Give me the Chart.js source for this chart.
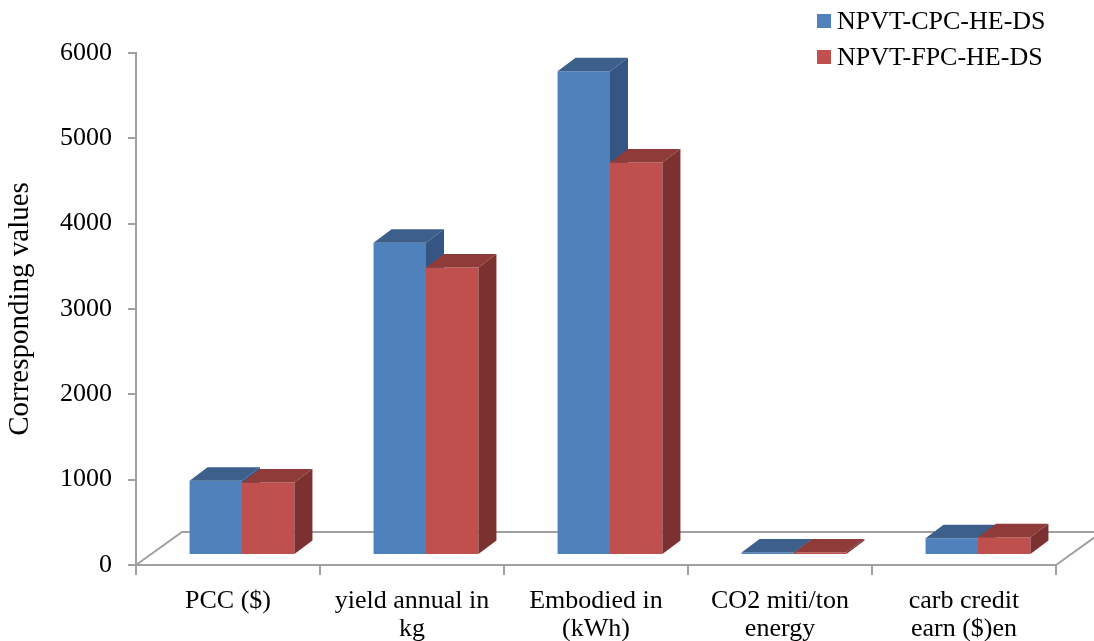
<!DOCTYPE html>
<html>
<head>
<meta charset="utf-8">
<script src="https://cdn.jsdelivr.net/npm/chart.js@4.4.1/dist/chart.umd.min.js"></script>
<style>
  body { margin: 0; background: #fff; }
  #wrap { position: relative; width: 1094px; height: 641px; }
  .leg { position: absolute; left: 817px; font: 26px "Liberation Serif", "Times New Roman", serif; color: #000; white-space: nowrap; line-height: 30px; }
  .leg span { display: inline-block; width: 14px; height: 14px; margin-right: 6px; vertical-align: 1px; }
</style>
</head>
<body>
<div id="wrap">
  <canvas id="mycanvas" width="1094" height="641"></canvas>
  <div class="leg" style="top:6px"><span style="background:#4f81bd"></span>NPVT-CPC-HE-DS</div>
  <div class="leg" style="top:42px"><span style="background:#c0504d"></span>NPVT-FPC-HE-DS</div>
</div>
<script>
var categories = [['PCC ($)'], ['yield annual in', 'kg'], ['Embodied in', '(kWh)'], ['CO2 miti/ton', 'energy'], ['carb credit', 'earn ($)en']];
var cpcValues = [870, 3660, 5670, 30, 195];
var fpcValues = [850, 3370, 4600, 30, 207];
var yTicks = [0, 1000, 2000, 3000, 4000, 5000, 6000];

var serif = '"Liberation Serif", "Times New Roman", serif';
var axisGray = '#a0a0a0';

// fake 3d: floor, bar tops and sides
var bars3d = {
	id: 'bars3d',
	beforeDatasetsDraw: function(chart) {
		var a = chart.chartArea, ctx = chart.ctx;
		ctx.save();
		ctx.strokeStyle = axisGray;
		ctx.lineWidth = 2;
		ctx.beginPath();
		ctx.moveTo(a.left, a.bottom);
		ctx.lineTo(a.left + 46, a.bottom - 33);
		ctx.lineTo(a.right + 46, a.bottom - 33);
		ctx.moveTo(a.right, a.bottom);
		ctx.lineTo(a.right + 46, a.bottom - 33);
		ctx.stroke();
		ctx.restore();
	},
	beforeDatasetDraw: function() {
		return false;
	},
	afterDatasetsDraw: function(chart) {
		var ctx = chart.ctx;
		var dx = 18, dy = -13.5;
		ctx.save();
		ctx.translate(14, -10);
		for (var j = 0; j < categories.length; j++) {
			for (var i = 0; i < chart.data.datasets.length; i++) {
				var ds = chart.data.datasets[i];
				var bar = chart.getDatasetMeta(i).data[j];
				bar.draw(ctx);
				var p = bar.getProps(['x', 'y', 'base', 'width'], true);
				var l = p.x - p.width / 2, r = p.x + p.width / 2, t = p.y, b = p.base;
				ctx.fillStyle = ds.topColor;
				ctx.beginPath();
				ctx.moveTo(l, t);
				ctx.lineTo(l + dx, t + dy);
				ctx.lineTo(r + dx, t + dy);
				ctx.lineTo(r, t);
				ctx.closePath();
				ctx.fill();
				ctx.fillStyle = ds.sideColor;
				ctx.beginPath();
				ctx.moveTo(r, t);
				ctx.lineTo(r + dx, t + dy);
				ctx.lineTo(r + dx, b + dy);
				ctx.lineTo(r, b);
				ctx.closePath();
				ctx.fill();
			}
		}
		ctx.restore();
	}
};

var chartdata = {
	labels: categories,
	datasets: [
		{
			label: 'NPVT-CPC-HE-DS',
			backgroundColor: '#4f81bd',
			topColor: '#3c5f8b',
			sideColor: '#355682',
			data: cpcValues
		},
		{
			label: 'NPVT-FPC-HE-DS',
			backgroundColor: '#c0504d',
			topColor: '#8f3b39',
			sideColor: '#7b3130',
			data: fpcValues
		}
	]
};

var ctx = document.getElementById('mycanvas');

var barGraph = new Chart(ctx, {
	type: 'bar',
	data: chartdata,
	plugins: [bars3d],
	options: {
		responsive: false,
		animation: false,
		devicePixelRatio: 1,
		categoryPercentage: 0.57,
		barPercentage: 1,
		layout: { padding: { left: 0, top: 53, right: 38, bottom: 0 } },
		plugins: {
			legend: { display: false },
			tooltip: { enabled: false }
		},
		scales: {
			x: {
				afterFit: function(scale) { scale.height = 76; },
				grid: { drawOnChartArea: false, tickLength: 10, color: axisGray, lineWidth: 2 },
				border: { color: axisGray, width: 2 },
				ticks: { color: '#000', maxRotation: 0, autoSkip: false, padding: 12, font: { family: serif, size: 26, lineHeight: 1.08 } }
			},
			y: {
				min: 0,
				max: 6000,
				afterFit: function(scale) { scale.width = 136; },
				afterBuildTicks: function(scale) {
					scale.ticks = yTicks.map(function(v) { return { value: v }; });
				},
				grid: { drawOnChartArea: false, tickLength: 8, color: axisGray, lineWidth: 2 },
				border: { color: axisGray, width: 2 },
				title: { display: true, text: 'Corresponding values', color: '#000', padding: { top: 3, bottom: 0 }, font: { family: serif, size: 29 } },
				ticks: {
					color: '#000',
					padding: 16,
					font: { family: serif, size: 26 },
					callback: function(v) { return String(v); }
				}
			}
		}
	}
});
</script>
</body>
</html>
